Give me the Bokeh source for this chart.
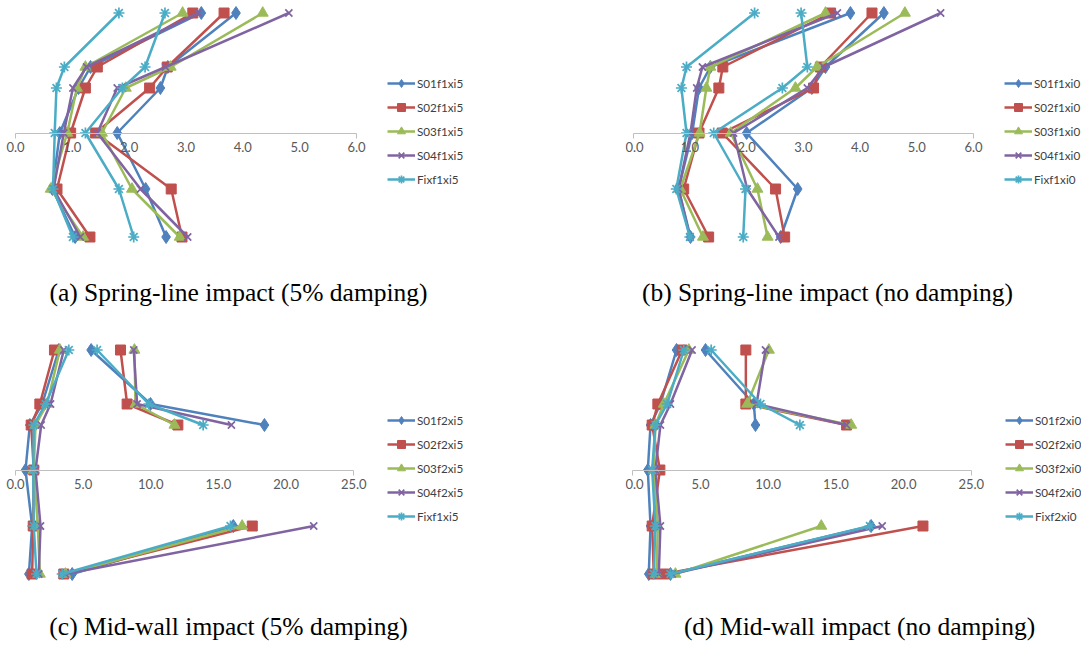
import math
from bokeh.plotting import figure
from bokeh.models import (LinearAxis, FixedTicker, Range1d, Legend, LegendItem,
                          Label, NumeralTickFormatter)
from bokeh.layouts import column, row
from bokeh.embed import file_html
from bokeh.resources import INLINE

NAN = float("nan")

# vertical positions of the six read-out levels (axis crosses at 0)
LEVELS = [12.0, 6.6, 4.5, 0.0, -5.6, -10.4]

COLORS = ["#4F81BD", "#C0504D", "#9BBB59", "#8064A2", "#4BACC6"]
MARKERS = ["diamond", "square", "triangle", "x", "asterisk"]
MSIZES = [13, 10, 11, 10, 11]

# ---------------- (a) Spring-line impact (5% damping) ----------------
A_NAMES = ["S01f1xi5", "S02f1xi5", "S03f1xi5", "S04f1xi5", "Fixf1xi5"]
A_S01_IN = [3.27, 1.32, 1.11, 0.78, 0.65, 1.05]
A_S01_OUT = [3.88, 2.68, 2.55, 1.79, 2.29, 2.65]
A_S02_IN = [3.12, 1.44, 1.23, 0.97, 0.73, 1.31]
A_S02_OUT = [3.67, 2.67, 2.36, 1.41, 2.74, 2.93]
A_S03_IN = [2.94, 1.23, 1.08, 0.91, 0.62, 1.19]
A_S03_OUT = [4.35, 2.73, 1.94, 1.52, 2.05, 2.89]
A_S04_IN = [3.22, 1.25, 1.01, 0.85, 0.67, 1.14]
A_S04_OUT = [4.81, 2.64, 1.79, 1.44, 2.20, 3.03]
A_FIX_IN = [1.82, 0.86, 0.72, 0.69, 0.66, 1.01]
A_FIX_OUT = [2.63, 2.28, 1.88, 1.23, 1.82, 2.08]
A_TICKS = [0, 1, 2, 3, 4, 5, 6]

# ---------------- (b) Spring-line impact (no damping) ----------------
B_NAMES = ["S01f1xi0", "S02f1xi0", "S03f1xi0", "S04f1xi0", "Fixf1xi0"]
B_S01_IN = [3.83, 1.36, 1.16, 1.04, 0.80, 1.01]
B_S01_OUT = [4.42, 3.39, 3.15, 2.00, 2.90, 2.60]
B_S02_IN = [3.48, 1.58, 1.51, 1.16, 0.89, 1.33]
B_S02_OUT = [4.21, 3.30, 3.18, 1.57, 2.51, 2.67]
B_S03_IN = [3.39, 1.36, 1.29, 1.17, 0.83, 1.23]
B_S03_OUT = [4.79, 3.24, 2.86, 1.72, 2.19, 2.37]
B_S04_IN = [3.60, 1.22, 1.12, 1.01, 0.80, 1.00]
B_S04_OUT = [5.42, 3.36, 3.07, 1.77, 2.01, 2.57]
B_FIX_IN = [2.14, 0.94, 0.85, 0.94, 0.76, 1.00]
B_FIX_OUT = [2.96, 3.07, 2.63, 1.42, 1.98, 1.94]
B_TICKS = [0, 1, 2, 3, 4, 5, 6]

# ---------------- (c) Mid-wall impact (5% damping) ----------------
C_NAMES = ["S01f2xi5", "S02f2xi5", "S03f2xi5", "S04f2xi5", "Fixf1xi5"]
C_S01_IN = [3.20, 1.97, 1.06, 0.74, 1.23, 0.99]
C_S01_OUT = [5.59, 9.98, 18.40, NAN, 16.10, 4.19]
C_S02_IN = [2.88, 1.80, 1.16, 1.35, 1.31, 1.23]
C_S02_OUT = [7.76, 8.25, 12.00, NAN, 17.50, 3.57]
C_S03_IN = [3.28, 2.34, 1.48, 1.35, 1.65, 1.80]
C_S03_OUT = [8.79, 8.87, 11.75, NAN, 16.75, 3.69]
C_S04_IN = [3.57, 2.59, 1.90, 1.48, 1.85, 1.72]
C_S04_OUT = [8.74, 8.99, 15.96, NAN, 22.04, 3.69]
C_FIX_IN = [3.94, 2.22, 1.35, 1.31, 1.35, 1.55]
C_FIX_OUT = [6.03, 9.85, 13.87, NAN, 15.89, 3.45]
C_TICKS = [0, 5, 10, 15, 20, 25]

# ---------------- (d) Mid-wall impact (no damping) ----------------
D_NAMES = ["S01f2xi0", "S02f2xi0", "S03f2xi0", "S04f2xi0", "Fixf2xi0"]
D_S01_IN = [3.23, 2.04, 1.31, 1.11, 1.31, 1.18]
D_S01_OUT = [5.37, 8.94, 9.06, NAN, 17.60, 2.78]
D_S02_IN = [3.65, 1.85, 1.43, 2.00, 1.43, 1.55]
D_S02_OUT = [8.35, 8.35, 15.79, NAN, 21.43, 2.29]
D_S03_IN = [4.14, 2.29, 1.67, 1.55, 1.85, 1.75]
D_S03_OUT = [10.05, 8.45, 16.13, NAN, 13.92, 3.15]
D_S04_IN = [4.38, 2.78, 2.04, 1.67, 2.04, 1.92]
D_S04_OUT = [9.80, 9.14, 15.79, NAN, 18.42, 2.91]
D_FIX_IN = [3.77, 2.54, 1.67, 1.43, 1.67, 1.55]
D_FIX_OUT = [5.79, 9.43, 12.34, NAN, 17.51, 2.78]
D_TICKS = [0, 5, 10, 15, 20, 25]

CAPTIONS = ["(a) Spring-line impact (5% damping)",
            "(b) Spring-line impact (no damping)",
            "(c) Mid-wall impact (5% damping)",
            "(d) Mid-wall impact (no damping)"]

TOP_PAD = 12.5   # px from frame top to the first level


def panel(names, inner, outer, ticks, width, height, x0px, ppu,
          legend_x, cap_text, cap_cx, cap_cy):
    y_end = LEVELS[0] + TOP_PAD / 10.0
    y_start = y_end - height / 10.0
    x_start = -x0px / ppu
    x_end = x_start + width / ppu
    p = figure(width=width, height=height, output_backend="svg",
               toolbar_location=None, x_range=Range1d(x_start, x_end),
               y_range=Range1d(y_start, y_end), x_axis_type=None,
               y_axis_type=None, min_border=0, outline_line_color=None,
               background_fill_color="white", border_fill_color="white")
    p.grid.visible = False

    ax = LinearAxis(ticker=FixedTicker(ticks=ticks, minor_ticks=[]),
                    formatter=NumeralTickFormatter(format="0.0"),
                    fixed_location=0, bounds=(ticks[0], ticks[-1]))
    ax.axis_line_color = "#BFBFBF"
    ax.axis_line_width = 1
    ax.major_tick_line_color = None
    ax.major_tick_in = 0
    ax.major_tick_out = 0
    ax.minor_tick_line_color = None
    ax.major_label_standoff = 9
    ax.major_label_text_font = "Lato"
    ax.major_label_text_font_size = "13px"
    ax.major_label_text_color = "#595959"
    p.add_layout(ax, "below")

    ends = LinearAxis(ticker=FixedTicker(ticks=[ticks[0], ticks[-1]], minor_ticks=[]),
                      fixed_location=0)
    ends.axis_line_color = None
    ends.major_tick_line_color = "#BFBFBF"
    ends.major_tick_in = 0
    ends.major_tick_out = 5
    ends.minor_tick_line_color = None
    ends.major_label_text_alpha = 0
    ends.major_label_text_font_size = "13px"
    p.add_layout(ends, "below")

    items = []
    for i, name in enumerate(names):
        xs = list(inner[i]) + [NAN] + list(outer[i])
        ys = LEVELS + [NAN] + LEVELS
        lr = p.line(xs, ys, line_color=COLORS[i], line_width=2.5,
                    line_join="round")
        mk = MARKERS[i]
        if mk in ("x", "asterisk"):
            sr = p.scatter(xs, ys, marker=mk, size=MSIZES[i],
                           line_color=COLORS[i], line_width=1.7,
                           fill_color=None)
        else:
            sr = p.scatter(xs, ys, marker=mk, size=MSIZES[i],
                           line_color=COLORS[i], fill_color=COLORS[i])
        items.append(LegendItem(label=name, renderers=[lr, sr]))

    leg = Legend(items=items, location=(legend_x, height - 188.5))
    leg.padding = 0
    leg.margin = 0
    leg.spacing = 4
    leg.glyph_width = 28
    leg.glyph_height = 20
    leg.label_height = 20
    leg.label_standoff = 2
    leg.label_text_font = "Lato"
    leg.label_text_font_size = "11.7px"
    leg.label_text_color = "#404040"
    leg.border_line_color = None
    leg.background_fill_alpha = 0
    p.add_layout(leg)

    cap = Label(x=(cap_cx - x0px) / ppu, y=y_end - cap_cy / 10.0, text=cap_text,
                text_font="Liberation Serif", text_font_size="25.5px",
                text_color="black", text_align="center",
                text_baseline="middle")
    p.add_layout(cap)
    return p


W_L, W_R = 625, 456
H_T, H_B = 337, 314

pa = panel(A_NAMES, [A_S01_IN, A_S02_IN, A_S03_IN, A_S04_IN, A_FIX_IN],
           [A_S01_OUT, A_S02_OUT, A_S03_OUT, A_S04_OUT, A_FIX_OUT], A_TICKS,
           W_L, H_T, 15.0, 56.83, 387, CAPTIONS[0], 238, 292)
pb = panel(B_NAMES, [B_S01_IN, B_S02_IN, B_S03_IN, B_S04_IN, B_FIX_IN],
           [B_S01_OUT, B_S02_OUT, B_S03_OUT, B_S04_OUT, B_FIX_OUT], B_TICKS,
           W_R, H_T, 7.7, 56.72, 379, CAPTIONS[1], 202, 292)
pc = panel(C_NAMES, [C_S01_IN, C_S02_IN, C_S03_IN, C_S04_IN, C_FIX_IN],
           [C_S01_OUT, C_S02_OUT, C_S03_OUT, C_S04_OUT, C_FIX_OUT], C_TICKS,
           W_L, H_B, 15.0, 13.53, 387, CAPTIONS[2], 228, 289)
pd = panel(D_NAMES, [D_S01_IN, D_S02_IN, D_S03_IN, D_S04_IN, D_FIX_IN],
           [D_S01_OUT, D_S02_OUT, D_S03_OUT, D_S04_OUT, D_FIX_OUT], D_TICKS,
           W_R, H_B, 7.3, 13.54, 380, CAPTIONS[3], 234, 289)

layout = column(row(pa, pb), row(pc, pd))
open("out.html", "w").write(file_html(layout, INLINE))
